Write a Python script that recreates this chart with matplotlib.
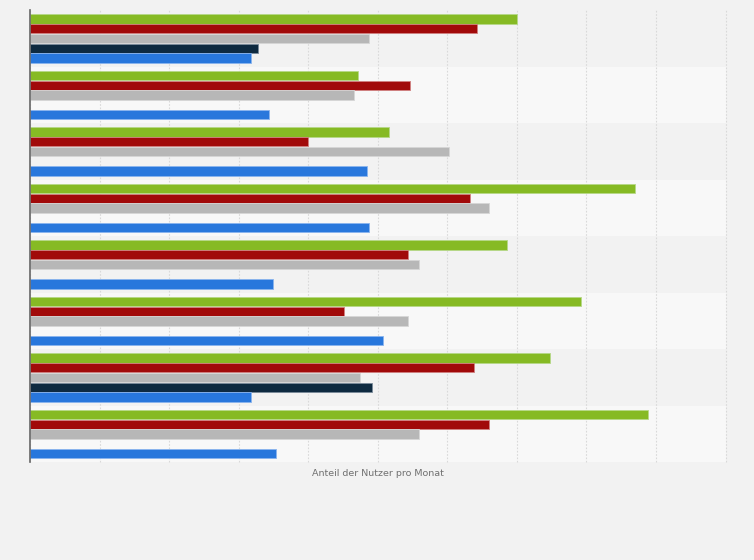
import numpy as np
import matplotlib
matplotlib.use("Agg")
import matplotlib.pyplot as plt

# Data (share of users per month, %)
categories = ["Gruppe 1", "Gruppe 2", "Gruppe 3", "Gruppe 4",
              "Gruppe 5", "Gruppe 6", "Gruppe 7", "Gruppe 8"]
series_names = ["Serie A", "Serie B", "Serie C", "Serie D", "Serie E"]
serie_a = [35.0, 23.6, 25.8, 43.5, 34.3, 39.6, 37.4, 44.4]   # green
serie_b = [32.1, 27.3, 20.0, 31.6, 27.2, 22.6, 31.9, 33.0]   # red
serie_c = [24.4, 23.3, 30.1, 33.0, 28.0, 27.2, 23.7, 28.0]   # gray
serie_d = [16.4, None, None, None, None, None, 24.6, None]   # navy
serie_e = [15.9, 17.2, 24.2, 24.4, 17.5, 25.4, 15.9, 17.7]   # blue
x_max = 50
x_step = 5
x_label = "Anteil der Nutzer pro Monat"

colors = ["#86ba24", "#a10a0a", "#b7b7b7", "#0e2a40", "#2877dc"]
edges = ["#b6d888", "#d08080", "#d6d6d6", "#7a8a9a", "#8ab4ee"]
all_series = [serie_a, serie_b, serie_c, serie_d, serie_e]

fig = plt.figure(figsize=(7.54, 5.6), dpi=100)
fig.patch.set_facecolor("#f2f2f2")
ax = fig.add_axes([30 / 754, 1 - 462 / 560, (725.5 - 30) / 754, (462 - 10) / 560])
ax.set_facecolor("#f2f2f2")

n = len(categories)
y = np.arange(n)
# alternating bands
for i in range(n):
    ax.axhspan(i - 0.5, i + 0.5, color="#f2f2f2" if i % 2 == 0 else "#f8f8f8",
               zorder=0, lw=0)

offsets = [-0.34, -0.168, 0.004, 0.176, 0.348]
h = 0.163
for s, vals in enumerate(all_series):
    for i, v in enumerate(vals):
        if v is None:
            continue
        ax.barh(y[i] + offsets[s], v, height=h, color=colors[s],
                edgecolor=edges[s], linewidth=0.6, zorder=3)

ax.set_xlim(0, x_max)
ax.set_ylim(n - 0.5, -0.5)
ax.set_xticks(np.arange(0, x_max + 0.1, x_step))
ax.set_yticks([])
ax.tick_params(axis="x", length=0, labelbottom=False)
ax.grid(axis="x", color="#d9d9d9", linestyle=(0, (1.5, 1.5)), linewidth=0.8, zorder=1)
for gl in ax.get_xgridlines():
    gl.set_clip_on(False)
for sp in ["top", "right", "bottom"]:
    ax.spines[sp].set_visible(False)
ax.spines["left"].set_color("#666666")
ax.spines["left"].set_linewidth(1.2)
ax.spines["left"].set_zorder(4)

fig.text(377.5 / 754, 1 - 474 / 560, x_label, ha="center", va="center",
         fontsize=6.8, color="#707070")

fig.savefig("out.png", dpi=100, facecolor=fig.get_facecolor())
